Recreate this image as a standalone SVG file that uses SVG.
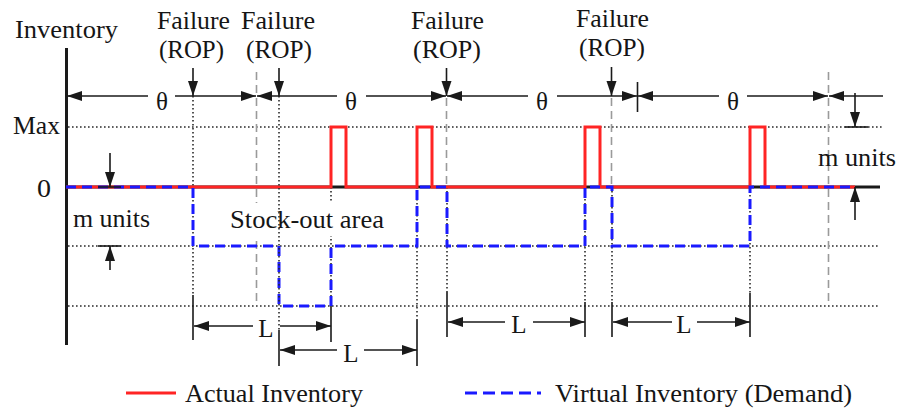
<svg xmlns="http://www.w3.org/2000/svg" width="899" height="410" viewBox="0 0 899 410">
  <style>
    text { font-family: "Liberation Serif", "DejaVu Serif", serif; font-size: 25px; fill: #151515; }
    .mid { text-anchor: middle; }
    .ax { stroke: #1a1a1a; stroke-width: 3; fill: none; }
    .ln { stroke: #1a1a1a; stroke-width: 1.6; fill: none; }
    .arr { stroke: #1a1a1a; stroke-width: 1.6; fill: none; marker-end: url(#ah); }
    .arr2 { stroke: #1a1a1a; stroke-width: 1.6; fill: none; marker-start: url(#ah); }
    .dot { stroke: #2a2a2a; stroke-width: 1.6; stroke-dasharray: 1.6 2.4; fill: none; }
    .gray { stroke: #9a9a9a; stroke-width: 1.6; stroke-dasharray: 8 5; fill: none; }
    .actual { stroke: #ff2424; stroke-width: 3; fill: none; }
    .virtual { stroke: #1a1aff; stroke-width: 3; stroke-dasharray: 10 6; fill: none; }
  </style>
  <defs>
    <marker id="ah" markerUnits="userSpaceOnUse" markerWidth="16" markerHeight="11" refX="15" refY="5" orient="auto-start-reverse">
      <path d="M0,0 L15,5 L0,10 z" fill="#1a1a1a"/>
    </marker>
  </defs>

  <rect width="899" height="410" fill="#ffffff"/>

  <!-- reference levels: Max, -m, -2m -->
  <g id="levels">
    <path class="dot" d="M68,127 H883 M68,246 H878 M68,306 H878"/>
  </g>

  <!-- cycle boundaries (grey dashed) -->
  <g id="cycle-bounds">
    <path class="gray" d="M256.5,72 V306 M446.5,98 V187 M611.5,98 V187 M828.5,72 V303"/>
  </g>

  <!-- failure / arrival guides -->
  <g id="guides">
    <path class="dot" d="M193,96 V295 M331,187 V306 M417,187 V320 M447,187 V292 M585,187 V302 M612,187 V302 M750,187 V293"/>
    <path class="ln" d="M193,295 V340 M331,306 V342 M417,320 V366 M447,292 V337 M585,302 V337 M612,302 V337 M750,293 V337"/>
  </g>

  <!-- axes -->
  <g id="axes">
    <path class="ax" d="M66.5,48 V345"/>
    <path class="ax" d="M66,187 H880" stroke-width="2.5"/>
    <text x="15" y="38" textLength="103" lengthAdjust="spacingAndGlyphs">Inventory</text>
    <text x="13" y="134" textLength="47" lengthAdjust="spacingAndGlyphs">Max</text>
    <text x="37" y="197" textLength="14" lengthAdjust="spacingAndGlyphs">0</text>
  </g>

  <!-- inventory curves -->
  <g id="actual-inventory">
    <path class="actual" d="M66,187 H331 V127 H346 V187 H417 V127 H432 V187 H585 V127 H600 V187 H750 V127 H765 V187 H855"/>
  </g>
  <g id="virtual-inventory">
    <path class="virtual" d="M66,187 H193 V246 H279 V306 H331 V246 H417 V187 H447 V246 H585 V187 H612 V246 H750 V187 H855"/>
  </g>

  <!-- stock-out label -->
  <g id="stock-out">
    <rect x="228" y="203" width="158" height="33" fill="#ffffff"/>
    <text x="230" y="228" textLength="154" lengthAdjust="spacingAndGlyphs">Stock-out area</text>
  </g>
  <path class="dot" d="M279,96 V330"/>
  <path class="ln" d="M279,330 V366"/>

  <!-- failure (ROP) markers -->
  <g id="failure-1">
    <text x="157" y="29" textLength="73" lengthAdjust="spacingAndGlyphs">Failure</text>
    <text x="159" y="58" textLength="65" lengthAdjust="spacingAndGlyphs">(ROP)</text>
  </g>
  <g id="failure-2">
    <text x="241" y="29" textLength="74" lengthAdjust="spacingAndGlyphs">Failure</text>
    <text x="246" y="58" textLength="66" lengthAdjust="spacingAndGlyphs">(ROP)</text>
  </g>
  <g id="failure-3">
    <text x="411" y="29" textLength="73" lengthAdjust="spacingAndGlyphs">Failure</text>
    <text x="413" y="58" textLength="68" lengthAdjust="spacingAndGlyphs">(ROP)</text>
  </g>
  <g id="failure-4">
    <text x="576" y="27" textLength="73" lengthAdjust="spacingAndGlyphs">Failure</text>
    <text x="579" y="56" textLength="66" lengthAdjust="spacingAndGlyphs">(ROP)</text>
  </g>

  <!-- m units labels -->
  <g id="m-units-left">
    <text x="73" y="227" textLength="77" lengthAdjust="spacingAndGlyphs">m units</text>
  </g>
  <g id="m-units-right">
    <text x="818" y="166" textLength="78" lengthAdjust="spacingAndGlyphs">m units</text>
  </g>

  <!-- theta and L labels -->
  <g id="period-labels">
    <text class="mid" x="162" y="110">θ</text>
    <text class="mid" x="351" y="110">θ</text>
    <text class="mid" x="542" y="110">θ</text>
    <text class="mid" x="733" y="110">θ</text>
    <text class="mid" x="266" y="337">L</text>
    <text class="mid" x="351" y="362">L</text>
    <text class="mid" x="519" y="333">L</text>
    <text class="mid" x="684" y="333">L</text>
  </g>

  <!-- dimension arrows -->
  <g id="connectors">
    <!-- review periods θ -->
    <path class="arr2" d="M67,96 H148"/>
    <path class="arr" d="M175,96 H256"/>
    <path class="arr2" d="M257,96 H337"/>
    <path class="arr" d="M366,96 H446"/>
    <path class="arr2" d="M447,96 H528"/>
    <path class="arr" d="M557,96 H637"/>
    <path class="arr2" d="M638,96 H719"/>
    <path class="arr" d="M747,96 H828"/>
    <path class="arr2" d="M829,96 H883"/>
    <path class="ln" d="M637.5,82 V112"/>
    <!-- failure arrows -->
    <path class="arr" d="M193,68 V96"/>
    <path class="arr" d="M279,68 V96"/>
    <path class="arr" d="M446.5,68 V96"/>
    <path class="arr" d="M611.5,67 V96"/>
    <!-- lead times L -->
    <path class="arr2" d="M194,326 H253"/>
    <path class="arr" d="M280,326 H331"/>
    <path class="arr2" d="M280,350 H337"/>
    <path class="arr" d="M364,350 H417"/>
    <path class="arr2" d="M448,322 H505"/>
    <path class="arr" d="M533,322 H585"/>
    <path class="arr2" d="M613,322 H672"/>
    <path class="arr" d="M697,322 H750"/>
    <!-- m units -->
    <path class="arr" d="M110,153 V187"/>
    <path class="ln" d="M98,187 H121"/>
    <path class="arr" d="M110,270 V246"/>
    <path class="ln" d="M98,246 H121"/>
    <path class="arr" d="M855,93 V127"/>
    <path class="ln" d="M845,127 H868"/>
    <path class="arr" d="M855,220 V187"/>
  </g>

  <!-- legend -->
  <g id="legend">
    <path d="M126,393 H176" stroke="#ff2424" stroke-width="3"/>
    <text x="185" y="402" textLength="178" lengthAdjust="spacingAndGlyphs">Actual Inventory</text>
    <path d="M465,393 H541" stroke="#1a1aff" stroke-width="3" stroke-dasharray="12 6"/>
    <text x="555" y="402" textLength="297" lengthAdjust="spacingAndGlyphs">Virtual Inventory (Demand)</text>
  </g>
</svg>
